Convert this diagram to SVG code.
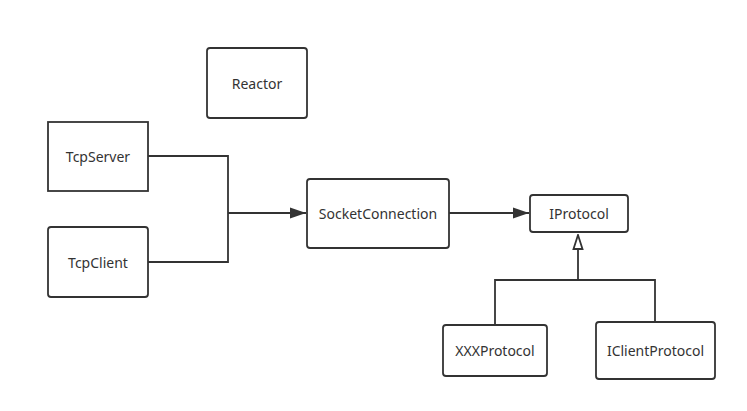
<svg xmlns="http://www.w3.org/2000/svg" width="747" height="411" viewBox="0 0 747 411">
<style>
.n{fill:#fff;stroke:#333;stroke-width:1.8}
.t{font-family:"Noto Sans","Open Sans",sans-serif;font-size:14px;fill:#333;text-anchor:middle;dominant-baseline:central}
.c{fill:none;stroke:#333;stroke-width:1.8}
</style>
<defs>
<marker id="a" markerWidth="16" markerHeight="12" refX="16" refY="6" orient="auto" markerUnits="userSpaceOnUse" viewBox="0 0 16 12">
<path d="M0,0.5 L16,6 L0,11.5 Z" fill="#333"/>
</marker>
<marker id="h" markerWidth="16" markerHeight="12" refX="15" refY="6" orient="auto" markerUnits="userSpaceOnUse" viewBox="0 0 16 12">
<path d="M1,1.5 L15,6 L1,10.5 Z" fill="#fff" stroke="#333" stroke-width="1.8"/>
</marker>
</defs>
<rect width="747" height="411" fill="#fff"/>
<g id="connectors">
<path class="c" d="M148,156 H228 V262 H148"/>
<path class="c" d="M228,213 H306" marker-end="url(#a)"/>
<path class="c" d="M449,213 H529" marker-end="url(#a)"/>
<path class="c" d="M495,325 V280 H655 V322"/>
<path class="c" d="M578,280 V235" marker-end="url(#h)"/>
</g>
<g id="reactor"><rect class="n" x="207" y="48" width="100" height="70" rx="3"/><text class="t" x="257" y="83">Reactor</text></g>
<g id="tcpserver"><rect class="n" x="48" y="122" width="100" height="69"/><text class="t" x="98" y="156.5">TcpServer</text></g>
<g id="tcpclient"><rect class="n" x="48" y="227" width="100" height="70" rx="3"/><text class="t" x="98" y="262">TcpClient</text></g>
<g id="socketconnection"><rect class="n" x="307" y="179" width="142" height="69" rx="3"/><text class="t" x="378" y="213.5">SocketConnection</text></g>
<g id="iprotocol"><rect class="n" x="530" y="195" width="98" height="37" rx="3"/><text class="t" x="579" y="213.5">IProtocol</text></g>
<g id="xxxprotocol"><rect class="n" x="443" y="325" width="104" height="51" rx="3"/><text class="t" x="495" y="350.5">XXXProtocol</text></g>
<g id="iclientprotocol"><rect class="n" x="596" y="322" width="119" height="57" rx="3"/><text class="t" x="655.5" y="350.5">IClientProtocol</text></g>
</svg>
